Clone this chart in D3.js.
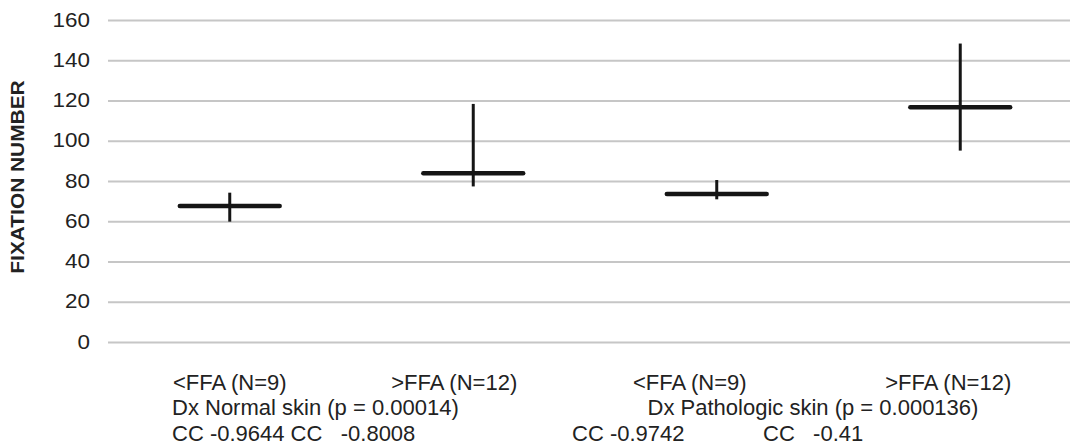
<!DOCTYPE html>
<html>
<head>
<meta charset="utf-8">
<script src="https://cdn.jsdelivr.net/npm/d3@7"></script>
<style>
  body { margin: 0; background: #fff; }
  svg { display: block; font-family: "Liberation Sans", Arial, sans-serif; }
  text { white-space: pre; }
</style>
</head>
<body>
<svg width="1070" height="445"></svg>
<script>
  // Data
  const categories = ['<FFA (N=9) normal', '>FFA (N=12) normal', '<FFA (N=9) pathologic', '>FFA (N=12) pathologic'];
  const meanValues = [67.6, 83.8, 73.5, 116.6];
  const highValues = [74.2, 118.3, 80.5, 148.3];
  const lowValues = [59.8, 77.3, 70.9, 95.1];
  const yTicks = [0, 20, 40, 60, 80, 100, 120, 140, 160];

  const groupLabels = ['<FFA (N=9)', '>FFA (N=12)', '<FFA (N=9)', '>FFA (N=12)'];
  const diagnosisLabels = ['Dx Normal skin (p = 0.00014)', 'Dx Pathologic skin (p = 0.000136)'];
  const ccLabels = ['CC -0.9644 CC   -0.8008', 'CC -0.9742', 'CC   -0.41'];

  const svg = d3.select('svg');
  const width = +svg.attr('width');

  const margin = { top: 20, left: 108, bottom: 342 };
  const stretch = 1.15; // the source picture is a bit wider than tall

  // x: band scale, the last band runs past the right edge (as in the picture)
  const x = d3.scaleBand()
    .domain(categories)
    .range([margin.left, 1082]);

  const y = d3.scaleLinear()
    .domain([0, 160])
    .range([margin.bottom, margin.top]);

  // gridlines + tick labels
  const yAxis = d3.axisLeft(y)
    .tickValues(yTicks)
    .tickSize(-(width - margin.left))
    .tickFormat(d3.format('d'));

  const yAxisG = svg.append('g')
    .attr('transform', `translate(${margin.left},0)`)
    .call(yAxis);

  yAxisG.select('.domain').remove();
  yAxisG.selectAll('.tick line')
    .attr('stroke', '#c6c6c6')
    .attr('stroke-width', 2);
  yAxisG.selectAll('.tick text')
    .attr('x', -18 / stretch)
    .attr('transform', `scale(${stretch},1)`)
    .attr('font-size', 19.5)
    .attr('fill', '#222')
    .attr('font-family', '"Liberation Sans", Arial, sans-serif');

  // axis title
  svg.append('text')
    .attr('transform', `translate(24,${(margin.top + margin.bottom) / 2 - 4}) rotate(-90) scale(1.13,1)`)
    .attr('text-anchor', 'middle')
    .attr('font-size', 18.5)
    .attr('font-weight', 'bold')
    .attr('fill', '#222')
    .text('FIXATION NUMBER');

  // error crosses
  const halfMean = x.bandwidth() * 0.205;
  const marks = svg.append('g');

  categories.forEach((c, i) => {
    const cx = x(c) + x.bandwidth() / 2;
    marks.append('line')
      .attr('x1', cx).attr('x2', cx)
      .attr('y1', y(highValues[i])).attr('y2', y(lowValues[i]))
      .attr('stroke', '#151515')
      .attr('stroke-width', 3);
    marks.append('line')
      .attr('x1', cx - halfMean).attr('x2', cx + halfMean)
      .attr('y1', y(meanValues[i])).attr('y2', y(meanValues[i]))
      .attr('stroke', '#151515')
      .attr('stroke-width', 4.5)
      .attr('stroke-linecap', 'round');
  });

  // category labels (three text rows, like the source)
  const labelG = svg.append('g')
    .attr('font-size', 22)
    .attr('fill', '#222');

  const groupOffsets = [0, -19, -27, -12];
  labelG.selectAll('.grp')
    .data(groupLabels)
    .enter().append('text')
    .attr('class', 'grp')
    .attr('x', (d, i) => x(categories[i]) + x.bandwidth() / 2 + groupOffsets[i])
    .attr('y', 390)
    .attr('text-anchor', 'middle')
    .text(d => d);

  labelG.append('text')
    .attr('x', 172).attr('y', 415)
    .text(diagnosisLabels[0]);
  labelG.append('text')
    .attr('x', 813).attr('y', 415)
    .attr('text-anchor', 'middle')
    .text(diagnosisLabels[1]);

  const ccX = [172, 572, 763];
  labelG.selectAll('.cc')
    .data(ccLabels)
    .enter().append('text')
    .attr('class', 'cc')
    .attr('x', (d, i) => ccX[i])
    .attr('y', 441)
    .text(d => d);
</script>
</body>
</html>
